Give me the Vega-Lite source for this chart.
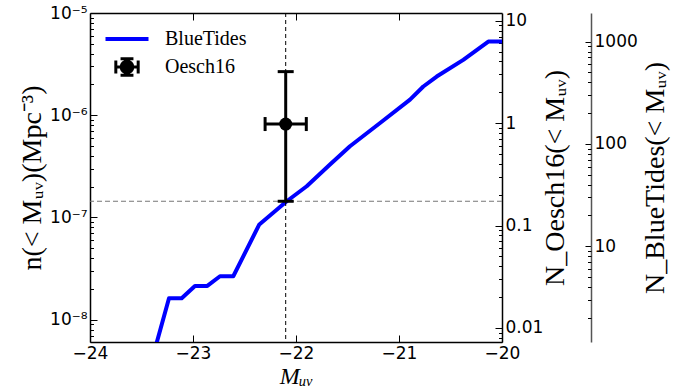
{
  "$schema": "https://vega.github.io/schema/vega-lite/v6.json",
  "width": 412,
  "height": 329,
  "autosize": {"type": "none"},
  "padding": {"left": 90, "top": 13, "right": 189, "bottom": 49},
  "background": "white",
  "datasets": {
    "bluetides": [
      {"M": -23.367, "n": 5.27e-9, "series": "BlueTides"},
      {"M": -23.233, "n": 1.62e-8, "series": "BlueTides"},
      {"M": -23.110, "n": 1.62e-8, "series": "BlueTides"},
      {"M": -22.981, "n": 2.14e-8, "series": "BlueTides"},
      {"M": -22.861, "n": 2.14e-8, "series": "BlueTides"},
      {"M": -22.738, "n": 2.66e-8, "series": "BlueTides"},
      {"M": -22.609, "n": 2.66e-8, "series": "BlueTides"},
      {"M": -22.356, "n": 8.55e-8, "series": "BlueTides"},
      {"M": -22.090, "n": 1.44e-7, "series": "BlueTides"},
      {"M": -21.896, "n": 2.02e-7, "series": "BlueTides"},
      {"M": -21.670, "n": 3.29e-7, "series": "BlueTides"},
      {"M": -21.476, "n": 4.97e-7, "series": "BlueTides"},
      {"M": -21.184, "n": 8.39e-7, "series": "BlueTides"},
      {"M": -20.893, "n": 1.42e-6, "series": "BlueTides"},
      {"M": -20.764, "n": 1.91e-6, "series": "BlueTides"},
      {"M": -20.634, "n": 2.39e-6, "series": "BlueTides"},
      {"M": -20.376, "n": 3.48e-6, "series": "BlueTides"},
      {"M": -20.133, "n": 5.25e-6, "series": "BlueTides"},
      {"M": -20.000, "n": 5.25e-6, "series": "BlueTides"}
    ],
    "oesch": [
      {"M": -22.1, "n": 8.2e-7, "Mlo": -22.3, "Mhi": -21.9, "nlo": 1.44e-7, "nhi": 2.67e-6, "series": "Oesch16"}
    ],
    "oeschAxis": [{"N": 0.01}, {"N": 0.1}, {"N": 1}, {"N": 10}],
    "btAxis": [{"N": 10}, {"N": 100}, {"N": 1000}]
  },
  "layer": [
    {
      "layer": [
        {
          "data": {"name": "bluetides"},
          "mark": {"type": "line", "strokeWidth": 4, "clip": true, "strokeJoin": "round"},
          "encoding": {
            "x": {"field": "M", "type": "quantitative", "scale": {"domain": [-24, -20], "zero": false, "nice": false},
              "axis": {"orient": "bottom", "values": [-24, -23, -22, -21, -20], "tickSize": -7, "labelPadding": 10, "labelFlush": false, "labelOverlap": false, "title": "Mᵤᵥ", "titlePadding": 3, "titleFontSize": 24, "titleFontStyle": "italic"}},
            "y": {"field": "n", "type": "quantitative", "scale": {"type": "log", "domain": [6.05e-9, 1e-5], "nice": false},
              "axis": {"orient": "left", "values": [1e-8, 1e-7, 1e-6, 1e-5], "tickSize": -7, "labelPadding": 10,
                "labelExpr": "round(log(datum.value)/LN10) == -5 ? '10⁻⁵' : round(log(datum.value)/LN10) == -6 ? '10⁻⁶' : round(log(datum.value)/LN10) == -7 ? '10⁻⁷' : '10⁻⁸'",
                "title": "n(< Mᵤᵥ)(Mpc⁻³)", "titlePadding": 3}},
            "color": {"field": "series", "type": "nominal", "scale": {"domain": ["BlueTides", "Oesch16"], "range": ["#0000ff", "#000000"]},
              "legend": {"orient": "none", "legendX": 27, "legendY": 16, "title": null, "padding": 0, "symbolSize": 1849, "labelFont": "Liberation Serif", "labelFontSize": 20, "labelColor": "black", "labelOffset": 28, "rowPadding": 3,
                "encode": {"symbols": {"update": {
                  "shape": {"signal": "datum.value === 'Oesch16' ? 'M-0.5,0L0.5,0M0,-0.38L0,0.38M-0.52,-0.3L-0.52,0.3M0.52,-0.3L0.52,0.3M-0.3,-0.38L0.3,-0.38M-0.3,0.38L0.3,0.38M0.27,0A0.27,0.27,0,1,1,-0.27,0A0.27,0.27,0,1,1,0.27,0Z' : 'M-1,0L1,0'"},
                  "stroke": {"signal": "datum.value === 'Oesch16' ? '#000000' : '#0000ff'"},
                  "fill": {"signal": "datum.value === 'Oesch16' ? '#000000' : 'transparent'"},
                  "strokeWidth": {"signal": "datum.value === 'Oesch16' ? 3 : 4"},
                  "size": {"value": 1849},
                  "opacity": {"value": 1}
                }}}}}
          }
        },
        {
          "data": {"name": "oesch"},
          "mark": {"type": "rule", "color": "black", "strokeWidth": 1, "strokeDash": [4, 3]},
          "encoding": {
            "x": {"field": "M", "type": "quantitative", "scale": {"domain": [-24, -20], "zero": false, "nice": false},
              "axis": {"orient": "top", "values": [-23, -22, -21], "labels": false, "tickSize": -7, "title": null}}
          }
        },
        {
          "data": {"name": "oesch"},
          "mark": {"type": "rule", "color": "#777777", "strokeWidth": 1.2, "strokeDash": [5, 3]},
          "encoding": {
            "y": {"field": "nlo", "type": "quantitative", "scale": {"type": "log", "domain": [6.05e-9, 1e-5], "nice": false},
              "axis": {"orient": "left", "values": [7e-9, 8e-9, 9e-9, 2e-8, 3e-8, 4e-8, 5e-8, 6e-8, 7e-8, 8e-8, 9e-8, 2e-7, 3e-7, 4e-7, 5e-7, 6e-7, 7e-7, 8e-7, 9e-7, 2e-6, 3e-6, 4e-6, 5e-6, 6e-6, 7e-6, 8e-6, 9e-6], "labels": false, "tickSize": -3.5, "domain": false, "title": null}}
          }
        },
        {
          "data": {"name": "oesch"},
          "mark": {"type": "rule", "color": "black", "strokeWidth": 3},
          "encoding": {
            "x": {"field": "M", "type": "quantitative", "scale": {"domain": [-24, -20], "zero": false, "nice": false}, "axis": null},
            "y": {"field": "nlo", "type": "quantitative", "scale": {"type": "log", "domain": [6.05e-9, 1e-5], "nice": false}, "axis": null},
            "y2": {"field": "nhi"}
          }
        },
        {
          "data": {"name": "oesch"},
          "mark": {"type": "rule", "color": "black", "strokeWidth": 3},
          "encoding": {
            "x": {"field": "Mlo", "type": "quantitative", "scale": {"domain": [-24, -20], "zero": false, "nice": false}, "axis": null},
            "x2": {"field": "Mhi"},
            "y": {"field": "n", "type": "quantitative", "scale": {"type": "log", "domain": [6.05e-9, 1e-5], "nice": false}, "axis": null}
          }
        },
        {
          "data": {"name": "oesch"},
          "transform": [{"fold": ["nlo", "nhi"], "as": ["end", "v"]}],
          "mark": {"type": "tick", "orient": "horizontal", "color": "black", "size": 16, "thickness": 3, "opacity": 1},
          "encoding": {
            "x": {"field": "M", "type": "quantitative", "scale": {"domain": [-24, -20], "zero": false, "nice": false}, "axis": null},
            "y": {"field": "v", "type": "quantitative", "scale": {"type": "log", "domain": [6.05e-9, 1e-5], "nice": false}, "axis": null}
          }
        },
        {
          "data": {"name": "oesch"},
          "transform": [{"fold": ["Mlo", "Mhi"], "as": ["end", "u"]}],
          "mark": {"type": "tick", "orient": "vertical", "color": "black", "size": 14, "thickness": 3, "opacity": 1},
          "encoding": {
            "x": {"field": "u", "type": "quantitative", "scale": {"domain": [-24, -20], "zero": false, "nice": false}, "axis": null},
            "y": {"field": "n", "type": "quantitative", "scale": {"type": "log", "domain": [6.05e-9, 1e-5], "nice": false}, "axis": null}
          }
        },
        {
          "data": {"name": "oesch"},
          "mark": {"type": "point", "shape": "circle", "filled": true, "size": 169, "opacity": 1},
          "encoding": {
            "x": {"field": "M", "type": "quantitative", "scale": {"domain": [-24, -20], "zero": false, "nice": false}, "axis": null},
            "y": {"field": "n", "type": "quantitative", "scale": {"type": "log", "domain": [6.05e-9, 1e-5], "nice": false}, "axis": null},
            "color": {"field": "series", "type": "nominal", "scale": {"domain": ["BlueTides", "Oesch16"], "range": ["#0000ff", "#000000"]}}
          }
        }
      ],
      "resolve": {"axis": {"x": "independent", "y": "independent"}}
    },
    {
      "data": {"name": "oeschAxis"},
      "mark": {"type": "point", "opacity": 0},
      "encoding": {
        "y": {"field": "N", "type": "quantitative", "scale": {"type": "log", "domain": [0.00728, 11.9], "nice": false},
          "axis": {"orient": "right", "values": [0.01, 0.1, 1, 10], "format": "~g", "tickSize": -7, "labelPadding": 10, "title": "N_Oesch16(< Mᵤᵥ)", "titleAngle": 270, "titlePadding": 27}}
      }
    },
    {
      "data": {"name": "oeschAxis"},
      "mark": {"type": "point", "opacity": 0},
      "encoding": {
        "y": {"field": "N", "type": "quantitative", "scale": {"type": "log", "domain": [0.00728, 11.9], "nice": false},
          "axis": {"orient": "right", "values": [0.008, 0.009, 0.02, 0.03, 0.04, 0.05, 0.06, 0.07, 0.08, 0.09, 0.2, 0.3, 0.4, 0.5, 0.6, 0.7, 0.8, 0.9, 2, 3, 4, 5, 6, 7, 8, 9], "labels": false, "tickSize": -3.5, "domain": false, "title": null}}
      }
    },
    {
      "data": {"name": "btAxis"},
      "mark": {"type": "point", "opacity": 0},
      "encoding": {
        "y": {"field": "N", "type": "quantitative", "scale": {"type": "log", "domain": [1.16, 1905], "nice": false},
          "axis": {"orient": "right", "offset": 89, "values": [10, 100, 1000], "format": "~g", "tickSize": -6, "labelPadding": 9, "domainColor": "#555555", "title": "N_BlueTides(< Mᵤᵥ)", "titleAngle": 270, "titlePadding": 32}}
      }
    },
    {
      "data": {"name": "btAxis"},
      "mark": {"type": "point", "opacity": 0},
      "encoding": {
        "y": {"field": "N", "type": "quantitative", "scale": {"type": "log", "domain": [1.16, 1905], "nice": false},
          "axis": {"orient": "right", "offset": 89, "values": [2, 3, 4, 5, 6, 7, 8, 9, 20, 30, 40, 50, 60, 70, 80, 90, 200, 300, 400, 500, 600, 700, 800, 900], "labels": false, "tickSize": -3.5, "domain": false, "title": null}}
      }
    }
  ],
  "resolve": {"scale": {"y": "independent"}, "axis": {"x": "independent", "y": "independent"}},
  "config": {
    "view": {"stroke": null},
    "axis": {"grid": false, "labelFont": "DejaVu Sans", "labelFontSize": 17, "labelColor": "black", "tickColor": "black", "tickWidth": 1, "domainColor": "black", "domainWidth": 1.5, "titleColor": "black", "titleFont": "Liberation Serif", "titleFontSize": 28, "titleFontWeight": "normal"}
  }
}
